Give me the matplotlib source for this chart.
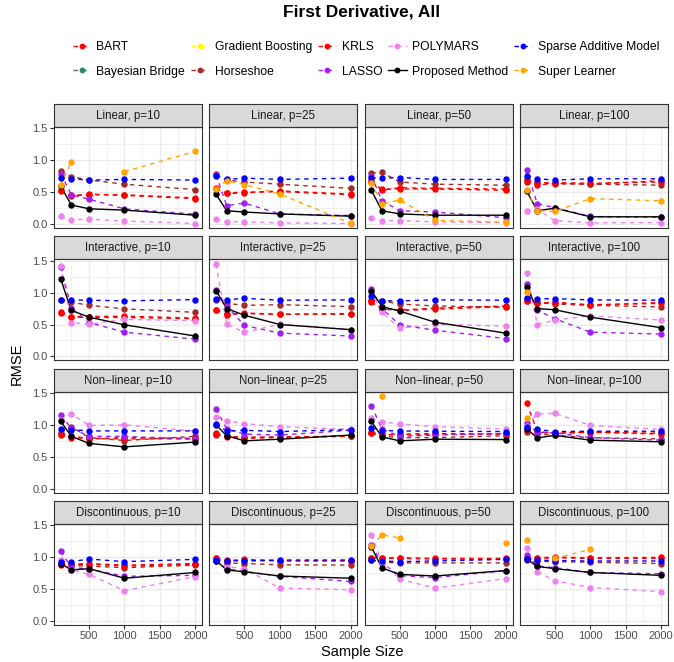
import numpy as np
import matplotlib
matplotlib.use("Agg")
import matplotlib.pyplot as plt
from matplotlib.lines import Line2D

plt.rcParams['font.family'] = ['Liberation Sans', 'DejaVu Sans']

nan = np.nan

SAMPLE_SIZES = [100, 250, 500, 1000, 2000]
SETTINGS = ["Linear", "Interactive", "Non\u2212linear", "Discontinuous"]
P_VALUES = [10, 25, 50, 100]
X_TICKS = [500, 1000, 1500, 2000]
Y_TICKS = [0.0, 0.5, 1.0, 1.5]
Y_TICK_LABELS = ["0.0", "0.5", "1.0", "1.5"]

# Each array: 16 panels (Linear p10..p100, Interactive..., Non-linear..., Discontinuous...), 5 sample sizes
BART = [
    [0.53, 0.44, 0.47, 0.45, 0.40], [0.56, 0.48, 0.49, 0.52, 0.47],
    [0.68, 0.53, 0.57, 0.56, 0.55], [0.70, 0.61, 0.64, 0.625, 0.68],
    [0.69, 0.61, 0.625, 0.63, 0.60], [0.73, 0.655, 0.68, 0.66, 0.67],
    [0.87, 0.74, 0.725, 0.755, 0.79], [0.87, 0.83, 0.85, 0.80, 0.845],
    [0.835, 0.80, 0.79, 0.78, 0.78], [0.875, 0.81, 0.79, 0.80, 0.83],
    [0.89, 0.84, 0.855, 0.865, 0.855], [1.34, 0.90, 0.865, 0.89, 0.855],
    [0.88, 0.89, 0.90, 0.875, 0.90], [0.99, 0.94, 0.965, 0.945, 0.945],
    [0.99, 0.99, 0.99, 0.98, 0.98], [0.98, 0.99, 1.00, 0.99, 0.995],
]
BAYESIAN_BRIDGE = [[nan] * 5 for _ in range(16)]
GRADIENT_BOOSTING = [[nan] * 5 for _ in range(16)]
HORSESHOE = [
    [0.83, 0.745, 0.69, 0.625, 0.54], [0.78, 0.69, 0.66, 0.625, 0.56],
    [0.80, 0.81, 0.66, 0.625, 0.61], [0.68, 0.66, 0.63, 0.625, 0.61],
    [0.88, 0.85, 0.80, 0.745, 0.69], [0.885, 0.83, 0.80, 0.81, 0.78],
    [0.885, 0.87, 0.82, 0.79, 0.77], [0.90, 0.845, 0.82, 0.80, 0.775],
    [0.875, 0.97, 0.80, 0.755, 0.82], [0.84, 0.82, 0.805, 0.81, 0.82],
    [0.865, 0.82, 0.80, 0.80, 0.83], [0.89, 0.855, 0.835, 0.80, 0.78],
    [0.89, 0.87, 0.86, 0.835, 0.875], [0.96, 0.91, 0.90, 0.88, 0.875],
    [0.95, 0.92, 0.91, 0.91, 0.91], [0.955, 0.935, 0.93, 0.92, 0.90],
]
KRLS = [
    [0.52, 0.45, 0.46, 0.46, 0.41], [0.55, 0.49, 0.50, 0.51, 0.46],
    [0.66, 0.55, 0.55, 0.55, 0.53], [0.66, 0.64, 0.65, 0.64, 0.66],
    [0.68, 0.62, 0.61, 0.61, 0.59], [0.72, 0.66, 0.67, 0.66, 0.66],
    [0.85, 0.75, 0.72, 0.74, 0.78], [0.86, 0.84, 0.84, 0.81, 0.83],
    [0.86, 0.83, 0.78, 0.80, 0.79], [0.86, 0.82, 0.80, 0.81, 0.82],
    [0.87, 0.85, 0.84, 0.85, 0.86], [0.92, 0.88, 0.87, 0.88, 0.87],
    [0.89, 0.88, 0.89, 0.86, 0.89], [0.98, 0.95, 0.95, 0.94, 0.94],
    [0.98, 0.98, 0.98, 0.97, 0.97], [0.97, 0.98, 0.99, 0.98, 0.98],
]
LASSO = [
    [0.79, 0.46, 0.39, 0.24, 0.155], [0.77, 0.29, 0.33, 0.16, 0.135],
    [0.755, 0.37, 0.21, 0.19, 0.10], [0.84, 0.32, 0.26, 0.12, 0.11],
    [1.40, 0.755, 0.53, 0.38, 0.27], [1.04, 0.79, 0.485, 0.365, 0.32],
    [1.05, 0.745, 0.495, 0.41, 0.28], [1.135, 0.725, 0.59, 0.38, 0.35],
    [1.15, 0.95, 0.82, 0.82, 0.775], [1.25, 0.94, 0.855, 0.84, 0.915],
    [1.30, 0.935, 0.82, 0.84, 0.865], [1.03, 0.88, 0.875, 0.80, 0.76],
    [1.09, 0.84, 0.815, 0.70, 0.715], [0.94, 0.815, 0.78, 0.70, 0.62],
    [1.185, 0.91, 0.71, 0.68, 0.79], [1.04, 0.86, 0.835, 0.76, 0.74],
]
POLYMARS = [
    [0.12, 0.07, 0.075, 0.05, 0.01], [0.08, 0.04, 0.035, 0.02, 0.01],
    [0.10, 0.055, 0.055, 0.035, 0.025], [0.20, 0.23, 0.055, 0.02, 0.025],
    [1.42, 0.53, 0.505, 0.58, 0.56], [1.44, 0.505, 0.375, 0.505, 0.42],
    [1.02, 0.69, 0.44, 0.505, 0.475], [1.31, 0.50, 0.57, 0.635, 0.57],
    [1.08, 1.17, 0.99, 1.00, 0.90], [1.12, 1.065, 1.02, 0.97, 0.93],
    [1.10, 1.045, 1.015, 0.97, 0.935], [0.98, 1.17, 1.18, 0.99, 0.93],
    [0.95, 0.80, 0.73, 0.475, 0.695], [0.96, 0.85, 0.82, 0.515, 0.49],
    [1.35, 0.93, 0.655, 0.515, 0.665], [1.15, 0.775, 0.63, 0.525, 0.46],
]
PROPOSED = [
    [0.59, 0.30, 0.24, 0.22, 0.14], [0.47, 0.21, 0.19, 0.16, 0.125],
    [0.53, 0.21, 0.16, 0.14, 0.14], [0.52, 0.21, 0.25, 0.115, 0.115],
    [1.21, 0.72, 0.615, 0.495, 0.32], [1.03, 0.75, 0.645, 0.50, 0.42],
    [1.03, 0.78, 0.71, 0.535, 0.365], [1.08, 0.75, 0.73, 0.615, 0.45],
    [1.055, 0.82, 0.71, 0.655, 0.73], [1.00, 0.83, 0.75, 0.775, 0.84],
    [1.055, 0.81, 0.75, 0.775, 0.77], [0.94, 0.795, 0.835, 0.76, 0.735],
    [0.90, 0.80, 0.82, 0.67, 0.76], [0.945, 0.80, 0.77, 0.705, 0.67],
    [1.16, 0.83, 0.73, 0.705, 0.79], [0.97, 0.855, 0.82, 0.76, 0.715],
]
SPARSE_ADDITIVE = [
    [0.73, 0.71, 0.69, 0.70, 0.69], [0.76, 0.70, 0.72, 0.70, 0.72],
    [0.72, 0.72, 0.73, 0.70, 0.70], [0.755, 0.71, 0.69, 0.71, 0.71],
    [0.88, 0.885, 0.88, 0.87, 0.89], [0.905, 0.885, 0.91, 0.88, 0.885],
    [0.95, 0.87, 0.87, 0.885, 0.88], [0.92, 0.90, 0.905, 0.885, 0.88],
    [0.93, 0.925, 0.905, 0.905, 0.905], [1.02, 0.90, 0.915, 0.895, 0.925],
    [0.955, 0.91, 0.905, 0.90, 0.895], [0.97, 0.93, 0.895, 0.90, 0.90],
    [0.93, 0.93, 0.97, 0.93, 0.965], [0.955, 0.945, 0.94, 0.955, 0.955],
    [0.95, 0.94, 0.93, 0.94, 0.965], [0.965, 0.955, 0.945, 0.94, 0.94],
]
SUPER_LEARNER = [
    [0.61, 0.98, nan, 0.82, 1.14], [0.55, 0.68, 0.62, 0.47, 0.015],
    [0.65, 0.31, 0.38, 0.06, 0.03], [0.54, 0.21, 0.20, 0.40, 0.365],
    [nan, nan, nan, nan, nan], [nan, nan, nan, nan, nan],
    [nan, nan, nan, nan, nan], [1.01, nan, nan, nan, nan],
    [nan, nan, nan, nan, nan], [nan, nan, nan, nan, nan],
    [nan, 1.45, nan, nan, nan], [1.10, nan, nan, nan, nan],
    [nan, nan, nan, nan, nan], [nan, nan, nan, nan, nan],
    [1.17, 1.35, 1.30, nan, 1.22], [1.27, nan, 0.98, 1.12, nan],
]

METHODS = ["BART", "Bayesian Bridge", "Gradient Boosting", "Horseshoe", "KRLS",
           "LASSO", "POLYMARS", "Proposed Method", "Sparse Additive Model", "Super Learner"]
SERIES = [BART, BAYESIAN_BRIDGE, GRADIENT_BOOSTING, HORSESHOE, KRLS,
          LASSO, POLYMARS, PROPOSED, SPARSE_ADDITIVE, SUPER_LEARNER]
COLORS = ["#FF0000", "#2E8B57", "#FFFF00", "#A52A2A", "#FF0000",
          "#A020F0", "#EE82EE", "#000000", "#0000FF", "#FFA500"]

W, H = 674, 662
fig = plt.figure(figsize=(W / 100, H / 100), dpi=100)

def rect(L, T, w, h):
    return [L / W, 1 - (T + h) / H, w / W, h / H]

PANEL_L0, PANEL_DX, PANEL_W = 54, 155.3, 148
STRIP_T0, ROW_DY, STRIP_H, PANEL_H = 104, 132.3, 23, 101
GRID_MAJOR = "#EBEBEB"
BORDER = "#333333"

def dash_style(name):
    return '-' if name == "Proposed Method" else (0, (3.2, 3.2))

for r in range(4):
    for c in range(4):
        k = r * 4 + c
        L = PANEL_L0 + c * PANEL_DX
        T = STRIP_T0 + r * ROW_DY
        sax = fig.add_axes(rect(L, T, PANEL_W, STRIP_H))
        sax.set_facecolor("#D9D9D9")
        sax.set_xticks([]); sax.set_yticks([])
        for s in sax.spines.values():
            s.set_color(BORDER); s.set_linewidth(0.8)
        sax.text(0.5, 0.48, f"{SETTINGS[r]}, p={P_VALUES[c]}", ha='center', va='center',
                 fontsize=8.3, color="#1A1A1A", transform=sax.transAxes)

        ax = fig.add_axes(rect(L, T + STRIP_H, PANEL_W, PANEL_H))
        ax.set_xlim(5, 2095)
        ax.set_ylim(-0.06, 1.52)
        ax.set_xticks(X_TICKS)
        ax.set_xticks([250, 750, 1250, 1750], minor=True)
        ax.set_yticks(Y_TICKS)
        ax.set_yticks([0.25, 0.75, 1.25], minor=True)
        ax.grid(True, which='major', color=GRID_MAJOR, linewidth=1.0)
        ax.grid(True, which='minor', color=GRID_MAJOR, linewidth=0.5)
        ax.set_axisbelow(True)
        for s in ax.spines.values():
            s.set_color(BORDER); s.set_linewidth(0.8)
        ax.tick_params(which='minor', length=0)
        ax.tick_params(which='major', length=3, width=0.8, color=BORDER,
                       labelsize=8, labelcolor="#4D4D4D", pad=1.5)
        if c == 0:
            ax.set_yticklabels(Y_TICK_LABELS)
        else:
            ax.tick_params(axis='y', which='major', length=0, labelleft=False)
        if r == 3:
            ax.set_xticklabels([str(v) for v in X_TICKS])
        else:
            ax.tick_params(axis='x', which='major', length=0, labelbottom=False)

        for name, data, col in zip(METHODS, SERIES, COLORS):
            ax.plot(SAMPLE_SIZES, data[k], color=col, linestyle=dash_style(name),
                    linewidth=1.0, zorder=2, clip_on=False)
        for name, data, col in zip(METHODS, SERIES, COLORS):
            ax.plot(SAMPLE_SIZES, data[k], color=col, linestyle='none', marker='o',
                    markersize=3.6, zorder=3, clip_on=False)

handles = [Line2D([0], [0], color=col, linestyle=dash_style(name), linewidth=1.0,
                  marker='o', markersize=3.2) for name, col in zip(METHODS, COLORS)]
fig.legend(handles, METHODS, loc='upper center', bbox_to_anchor=(366 / W, 1 - 36 / H),
           ncol=5, frameon=False, fontsize=8.7, handlelength=1.5, handletextpad=0.45,
           columnspacing=0.5, labelspacing=1.05, borderaxespad=0)

fig.text(362 / W, 1 - 12 / H, "First Derivative, All", ha='center', va='center',
         fontsize=12.5, fontweight='bold')
fig.text(362 / W, 1 - 652 / H, "Sample Size", ha='center', va='center', fontsize=10.5)
fig.text(17 / W, 1 - 364 / H, "RMSE", ha='center', va='center', fontsize=10.5, rotation=90)

fig.savefig("out.png", dpi=100)
